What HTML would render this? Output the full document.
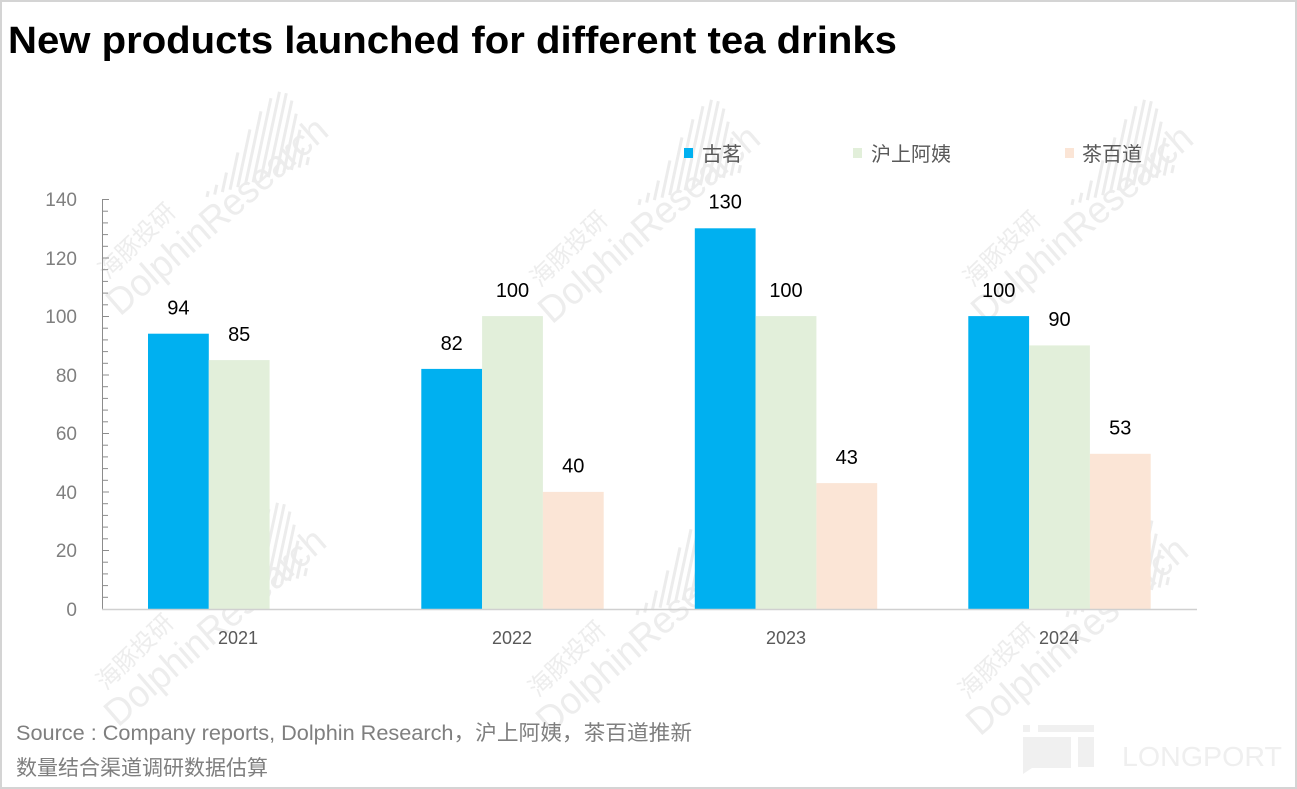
<!DOCTYPE html>
<html>
<head>
<meta charset="utf-8">
<style>
html,body{margin:0;padding:0;background:#fff;}
body{width:1297px;height:789px;overflow:hidden;}
svg{display:block;}
text{font-family:"Liberation Sans","Noto Sans CJK SC",sans-serif;}
</style>
</head>
<body>
<svg width="1297" height="789" viewBox="0 0 1297 789" xmlns="http://www.w3.org/2000/svg">
<rect x="0" y="0" width="1297" height="789" fill="#ffffff"/>

<!-- watermarks -->
<g fill="#ececec" opacity="0.95">
  <g transform="translate(120,317)">
    <text transform="rotate(-41)" font-size="38" textLength="279" lengthAdjust="spacingAndGlyphs">DolphinResearch</text>
    <text transform="translate(-12,-37) rotate(-44)" font-size="24" font-family="Noto Sans CJK SC, sans-serif">海豚投研</text>
    <g stroke="#ebebeb" stroke-width="3" transform="translate(87,-120) rotate(12)">
      <line x1="0" y1="0" x2="0" y2="-6"/><line x1="7" y1="-4" x2="7" y2="-14"/><line x1="14" y1="-8" x2="14" y2="-28"/>
      <line x1="21" y1="-12" x2="21" y2="-50"/><line x1="28" y1="-16" x2="28" y2="-75"/><line x1="35" y1="-20" x2="35" y2="-95"/>
      <line x1="42" y1="-24" x2="42" y2="-110"/><line x1="49" y1="-28" x2="49" y2="-118"/><line x1="56" y1="-32" x2="56" y2="-118"/>
      <line x1="63" y1="-36" x2="63" y2="-112"/><line x1="70" y1="-40" x2="70" y2="-100"/><line x1="77" y1="-44" x2="77" y2="-85"/>
      <line x1="84" y1="-48" x2="84" y2="-68"/><line x1="91" y1="-52" x2="91" y2="-60"/>
    </g>
  </g>
  <g transform="translate(552,325)">
    <text transform="rotate(-41)" font-size="38" textLength="279" lengthAdjust="spacingAndGlyphs">DolphinResearch</text>
    <text transform="translate(-12,-37) rotate(-44)" font-size="24" font-family="Noto Sans CJK SC, sans-serif">海豚投研</text>
    <g stroke="#ebebeb" stroke-width="3" transform="translate(87,-120) rotate(12)">
      <line x1="0" y1="0" x2="0" y2="-6"/><line x1="7" y1="-4" x2="7" y2="-14"/><line x1="14" y1="-8" x2="14" y2="-28"/>
      <line x1="21" y1="-12" x2="21" y2="-50"/><line x1="28" y1="-16" x2="28" y2="-75"/><line x1="35" y1="-20" x2="35" y2="-95"/>
      <line x1="42" y1="-24" x2="42" y2="-110"/><line x1="49" y1="-28" x2="49" y2="-118"/><line x1="56" y1="-32" x2="56" y2="-118"/>
      <line x1="63" y1="-36" x2="63" y2="-112"/><line x1="70" y1="-40" x2="70" y2="-100"/><line x1="77" y1="-44" x2="77" y2="-85"/>
      <line x1="84" y1="-48" x2="84" y2="-68"/><line x1="91" y1="-52" x2="91" y2="-60"/>
    </g>
  </g>
  <g transform="translate(985,325)">
    <text transform="rotate(-41)" font-size="38" textLength="279" lengthAdjust="spacingAndGlyphs">DolphinResearch</text>
    <text transform="translate(-12,-37) rotate(-44)" font-size="24" font-family="Noto Sans CJK SC, sans-serif">海豚投研</text>
    <g stroke="#ebebeb" stroke-width="3" transform="translate(87,-120) rotate(12)">
      <line x1="0" y1="0" x2="0" y2="-6"/><line x1="7" y1="-4" x2="7" y2="-14"/><line x1="14" y1="-8" x2="14" y2="-28"/>
      <line x1="21" y1="-12" x2="21" y2="-50"/><line x1="28" y1="-16" x2="28" y2="-75"/><line x1="35" y1="-20" x2="35" y2="-95"/>
      <line x1="42" y1="-24" x2="42" y2="-110"/><line x1="49" y1="-28" x2="49" y2="-118"/><line x1="56" y1="-32" x2="56" y2="-118"/>
      <line x1="63" y1="-36" x2="63" y2="-112"/><line x1="70" y1="-40" x2="70" y2="-100"/><line x1="77" y1="-44" x2="77" y2="-85"/>
      <line x1="84" y1="-48" x2="84" y2="-68"/><line x1="91" y1="-52" x2="91" y2="-60"/>
    </g>
  </g>
  <g transform="translate(118,728)">
    <text transform="rotate(-41)" font-size="38" textLength="279" lengthAdjust="spacingAndGlyphs">DolphinResearch</text>
    <text transform="translate(-12,-37) rotate(-44)" font-size="24" font-family="Noto Sans CJK SC, sans-serif">海豚投研</text>
    <g stroke="#ebebeb" stroke-width="3" transform="translate(87,-120) rotate(12)">
      <line x1="0" y1="0" x2="0" y2="-6"/><line x1="7" y1="-4" x2="7" y2="-14"/><line x1="14" y1="-8" x2="14" y2="-28"/>
      <line x1="21" y1="-12" x2="21" y2="-50"/><line x1="28" y1="-16" x2="28" y2="-75"/><line x1="35" y1="-20" x2="35" y2="-95"/>
      <line x1="42" y1="-24" x2="42" y2="-110"/><line x1="49" y1="-28" x2="49" y2="-118"/><line x1="56" y1="-32" x2="56" y2="-118"/>
      <line x1="63" y1="-36" x2="63" y2="-112"/><line x1="70" y1="-40" x2="70" y2="-100"/><line x1="77" y1="-44" x2="77" y2="-85"/>
      <line x1="84" y1="-48" x2="84" y2="-68"/><line x1="91" y1="-52" x2="91" y2="-60"/>
    </g>
  </g>
  <g transform="translate(550,735)">
    <text transform="rotate(-41)" font-size="38" textLength="279" lengthAdjust="spacingAndGlyphs">DolphinResearch</text>
    <text transform="translate(-12,-37) rotate(-44)" font-size="24" font-family="Noto Sans CJK SC, sans-serif">海豚投研</text>
    <g stroke="#ebebeb" stroke-width="3" transform="translate(87,-120) rotate(12)">
      <line x1="0" y1="0" x2="0" y2="-6"/><line x1="7" y1="-4" x2="7" y2="-14"/><line x1="14" y1="-8" x2="14" y2="-28"/>
      <line x1="21" y1="-12" x2="21" y2="-50"/><line x1="28" y1="-16" x2="28" y2="-75"/><line x1="35" y1="-20" x2="35" y2="-95"/>
      <line x1="42" y1="-24" x2="42" y2="-110"/><line x1="49" y1="-28" x2="49" y2="-118"/><line x1="56" y1="-32" x2="56" y2="-118"/>
      <line x1="63" y1="-36" x2="63" y2="-112"/><line x1="70" y1="-40" x2="70" y2="-100"/><line x1="77" y1="-44" x2="77" y2="-85"/>
      <line x1="84" y1="-48" x2="84" y2="-68"/><line x1="91" y1="-52" x2="91" y2="-60"/>
    </g>
  </g>
  <g transform="translate(980,737)">
    <text transform="rotate(-41)" font-size="38" textLength="279" lengthAdjust="spacingAndGlyphs">DolphinResearch</text>
    <text transform="translate(-12,-37) rotate(-44)" font-size="24" font-family="Noto Sans CJK SC, sans-serif">海豚投研</text>
    <g stroke="#ebebeb" stroke-width="3" transform="translate(87,-120) rotate(12)">
      <line x1="0" y1="0" x2="0" y2="-6"/><line x1="7" y1="-4" x2="7" y2="-14"/><line x1="14" y1="-8" x2="14" y2="-28"/>
      <line x1="21" y1="-12" x2="21" y2="-50"/><line x1="28" y1="-16" x2="28" y2="-75"/><line x1="35" y1="-20" x2="35" y2="-95"/>
      <line x1="42" y1="-24" x2="42" y2="-110"/><line x1="49" y1="-28" x2="49" y2="-118"/><line x1="56" y1="-32" x2="56" y2="-118"/>
      <line x1="63" y1="-36" x2="63" y2="-112"/><line x1="70" y1="-40" x2="70" y2="-100"/><line x1="77" y1="-44" x2="77" y2="-85"/>
      <line x1="84" y1="-48" x2="84" y2="-68"/><line x1="91" y1="-52" x2="91" y2="-60"/>
    </g>
  </g>
</g>

<!-- LONGPORT logo -->
<g fill="#f0f0f0">
  <rect x="1023" y="725" width="7" height="7"/>
  <rect x="1038" y="725" width="56" height="7"/>
  <path d="M1023 737 H1071 V768 H1032 L1023 774 Z"/>
  <rect x="1078" y="737" width="16" height="30"/>
  <text x="1122" y="766" font-size="28" textLength="160" lengthAdjust="spacingAndGlyphs" fill="#efefef">LONGPORT</text>
</g>

<!-- title -->
<text x="8" y="53" font-size="38" font-weight="bold" fill="#000" textLength="889" lengthAdjust="spacingAndGlyphs">New products launched for different tea drinks</text>

<!-- legend -->
<rect x="684" y="148" width="9" height="10" fill="#00B0F0"/>
<text x="702" y="161" font-size="20" fill="#595959" font-family="Noto Sans CJK SC, sans-serif">古茗</text>
<rect x="853" y="148" width="9" height="10" fill="#E2EFDA"/>
<text x="871" y="161" font-size="20" fill="#595959" font-family="Noto Sans CJK SC, sans-serif">沪上阿姨</text>
<rect x="1065" y="148" width="9" height="10" fill="#FBE5D6"/>
<text x="1082" y="161" font-size="20" fill="#595959" font-family="Noto Sans CJK SC, sans-serif">茶百道</text>

<!-- y axis labels -->
<g font-size="19" fill="#7f7f7f" text-anchor="end">
  <text x="77" y="206">140</text>
  <text x="77" y="265">120</text>
  <text x="77" y="323">100</text>
  <text x="77" y="382">80</text>
  <text x="77" y="440">60</text>
  <text x="77" y="499">40</text>
  <text x="77" y="557">20</text>
  <text x="77" y="616">0</text>
</g>

<!-- y axis line & ticks -->
<g stroke="#8c8c8c" stroke-width="1">
  <line x1="102.5" y1="199" x2="102.5" y2="609"/>
  <line x1="102" y1="199.5" x2="109" y2="199.5"/>
  <line x1="102" y1="258" x2="109" y2="258"/>
  <line x1="102" y1="316.5" x2="109" y2="316.5"/>
  <line x1="102" y1="375" x2="109" y2="375"/>
  <line x1="102" y1="433.5" x2="109" y2="433.5"/>
  <line x1="102" y1="492" x2="109" y2="492"/>
  <line x1="102" y1="550.5" x2="109" y2="550.5"/>
  <!-- minor ticks every 4 -->
  <line x1="102" y1="211.2" x2="108" y2="211.2"/><line x1="102" y1="222.9" x2="108" y2="222.9"/><line x1="102" y1="234.6" x2="108" y2="234.6"/><line x1="102" y1="246.3" x2="108" y2="246.3"/>
  <line x1="102" y1="269.7" x2="108" y2="269.7"/><line x1="102" y1="281.4" x2="108" y2="281.4"/><line x1="102" y1="293.1" x2="108" y2="293.1"/><line x1="102" y1="304.8" x2="108" y2="304.8"/>
  <line x1="102" y1="328.2" x2="108" y2="328.2"/><line x1="102" y1="339.9" x2="108" y2="339.9"/><line x1="102" y1="351.6" x2="108" y2="351.6"/><line x1="102" y1="363.3" x2="108" y2="363.3"/>
  <line x1="102" y1="386.7" x2="108" y2="386.7"/><line x1="102" y1="398.4" x2="108" y2="398.4"/><line x1="102" y1="410.1" x2="108" y2="410.1"/><line x1="102" y1="421.8" x2="108" y2="421.8"/>
  <line x1="102" y1="445.2" x2="108" y2="445.2"/><line x1="102" y1="456.9" x2="108" y2="456.9"/><line x1="102" y1="468.6" x2="108" y2="468.6"/><line x1="102" y1="480.3" x2="108" y2="480.3"/>
  <line x1="102" y1="503.7" x2="108" y2="503.7"/><line x1="102" y1="515.4" x2="108" y2="515.4"/><line x1="102" y1="527.1" x2="108" y2="527.1"/><line x1="102" y1="538.8" x2="108" y2="538.8"/>
  <line x1="102" y1="562.2" x2="108" y2="562.2"/><line x1="102" y1="573.9" x2="108" y2="573.9"/><line x1="102" y1="585.6" x2="108" y2="585.6"/><line x1="102" y1="597.3" x2="108" y2="597.3"/>
</g>

<!-- bars -->
<g>
  <!-- 2021 -->
  <rect x="148" y="333.7" width="60.8" height="275.3" fill="#00B0F0"/>
  <rect x="208.8" y="360.1" width="60.8" height="248.9" fill="#E2EFDA"/>
  <!-- 2022 -->
  <rect x="421.3" y="368.9" width="60.8" height="240.1" fill="#00B0F0"/>
  <rect x="482.1" y="316.1" width="60.8" height="292.9" fill="#E2EFDA"/>
  <rect x="542.9" y="491.9" width="60.8" height="117.1" fill="#FBE5D6"/>
  <!-- 2023 -->
  <rect x="694.8" y="228.3" width="60.8" height="380.7" fill="#00B0F0"/>
  <rect x="755.6" y="316.1" width="60.8" height="292.9" fill="#E2EFDA"/>
  <rect x="816.4" y="483.1" width="60.8" height="125.9" fill="#FBE5D6"/>
  <!-- 2024 -->
  <rect x="968.3" y="316.1" width="60.8" height="292.9" fill="#00B0F0"/>
  <rect x="1029.1" y="345.4" width="60.8" height="263.6" fill="#E2EFDA"/>
  <rect x="1089.9" y="453.8" width="60.8" height="155.2" fill="#FBE5D6"/>
</g>

<!-- x axis -->
<line x1="102" y1="609.5" x2="1197" y2="609.5" stroke="#d0d0d0" stroke-width="1.5"/>

<!-- value labels -->
<g font-size="20" fill="#000" text-anchor="middle">
  <text x="178.4" y="314.5">94</text>
  <text x="239.2" y="341">85</text>
  <text x="451.7" y="350">82</text>
  <text x="512.5" y="297">100</text>
  <text x="573.3" y="472.5">40</text>
  <text x="725.2" y="208.5">130</text>
  <text x="786" y="297">100</text>
  <text x="846.8" y="464">43</text>
  <text x="998.7" y="297">100</text>
  <text x="1059.5" y="326">90</text>
  <text x="1120.3" y="434.5">53</text>
</g>

<!-- x labels -->
<g font-size="18" fill="#595959" text-anchor="middle">
  <text x="238" y="644">2021</text>
  <text x="512" y="644">2022</text>
  <text x="786" y="644">2023</text>
  <text x="1059" y="644">2024</text>
</g>

<!-- footer -->
<text x="16" y="740" font-size="21" fill="#7f7f7f" textLength="676" lengthAdjust="spacingAndGlyphs">Source : Company reports, Dolphin Research，沪上阿姨，茶百道推新</text>
<text x="16" y="775" font-size="21" fill="#7f7f7f" textLength="252" lengthAdjust="spacingAndGlyphs" font-family="Noto Sans CJK SC, sans-serif">数量结合渠道调研数据估算</text>

<!-- frame -->
<rect x="1" y="1" width="1295" height="787" fill="none" stroke="#d4d4d4" stroke-width="2"/>
</svg>
</body>
</html>
